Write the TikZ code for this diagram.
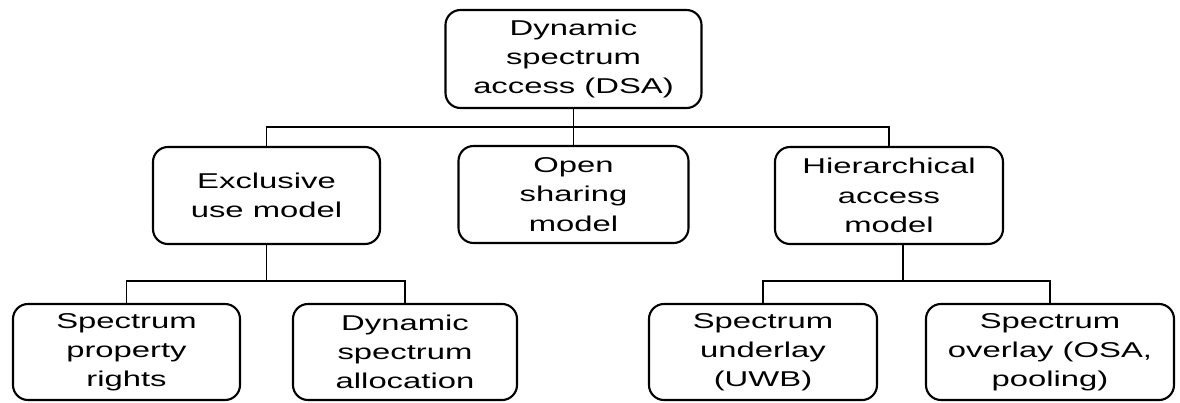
\documentclass[tikz,border=0pt]{standalone}
\usepackage{fontspec}
\newfontfamily\boxfont[FakeStretch=1.53]{Liberation Sans}

\begin{document}
\begin{tikzpicture}[
  model/.style={draw, line width=1.2pt, rounded corners=0.3cm, align=center,
    inner sep=0pt, minimum height=1.94cm,
    font=\boxfont\fontsize{12.2}{16.6}\selectfont},
  link/.style={line width=1.1pt}
]
\useasboundingbox (0,0) rectangle (23.6,8.04);

% root
\node[model, minimum width=5.12cm, minimum height=1.96cm] (dsa) at (11.47,6.86)
  {Dynamic\\spectrum\\access (DSA)};

% second level
\node[model, minimum width=4.54cm] (excl) at (5.33,4.13) {Exclusive\\use model};
\node[model, minimum width=4.6cm]  (open) at (11.47,4.15) {Open\\sharing\\model};
\node[model, minimum width=4.56cm] (hier) at (17.78,4.13) {Hierarchical\\access\\model};

% third level
\node[model, minimum width=4.54cm, minimum height=1.92cm] (rights) at (2.53,1.0)
  {Spectrum\\property\\rights};
\node[model, minimum width=4.48cm, minimum height=1.92cm] (alloc) at (8.1,1.0)
  {Dynamic\\spectrum\\allocation};
\node[model, minimum width=4.56cm, minimum height=1.92cm] (under) at (15.26,1.0)
  {Spectrum\\underlay\\(UWB)};
\node[model, minimum width=4.96cm, minimum height=1.92cm] (over) at (21.0,1.0)
  {Spectrum\\overlay (OSA,\\pooling)};

% connectors
\draw[link] (dsa.south) -- (open.north);
\coordinate (topbus) at (dsa.south |- 0,5.5);
\draw[link] (excl.north) |- (topbus) -| (hier.north);

\draw[link] (excl.south) -- ++(0,-0.72) coordinate (leftbus);
\draw[link] (rights.north) |- (leftbus) -| (alloc.north);

\draw[link] ([xshift=0.28cm]hier.south) -- ++(0,-0.72) coordinate (rightbus);
\draw[link] (under.north) |- (rightbus) -| (over.north);

\end{tikzpicture}
\end{document}
